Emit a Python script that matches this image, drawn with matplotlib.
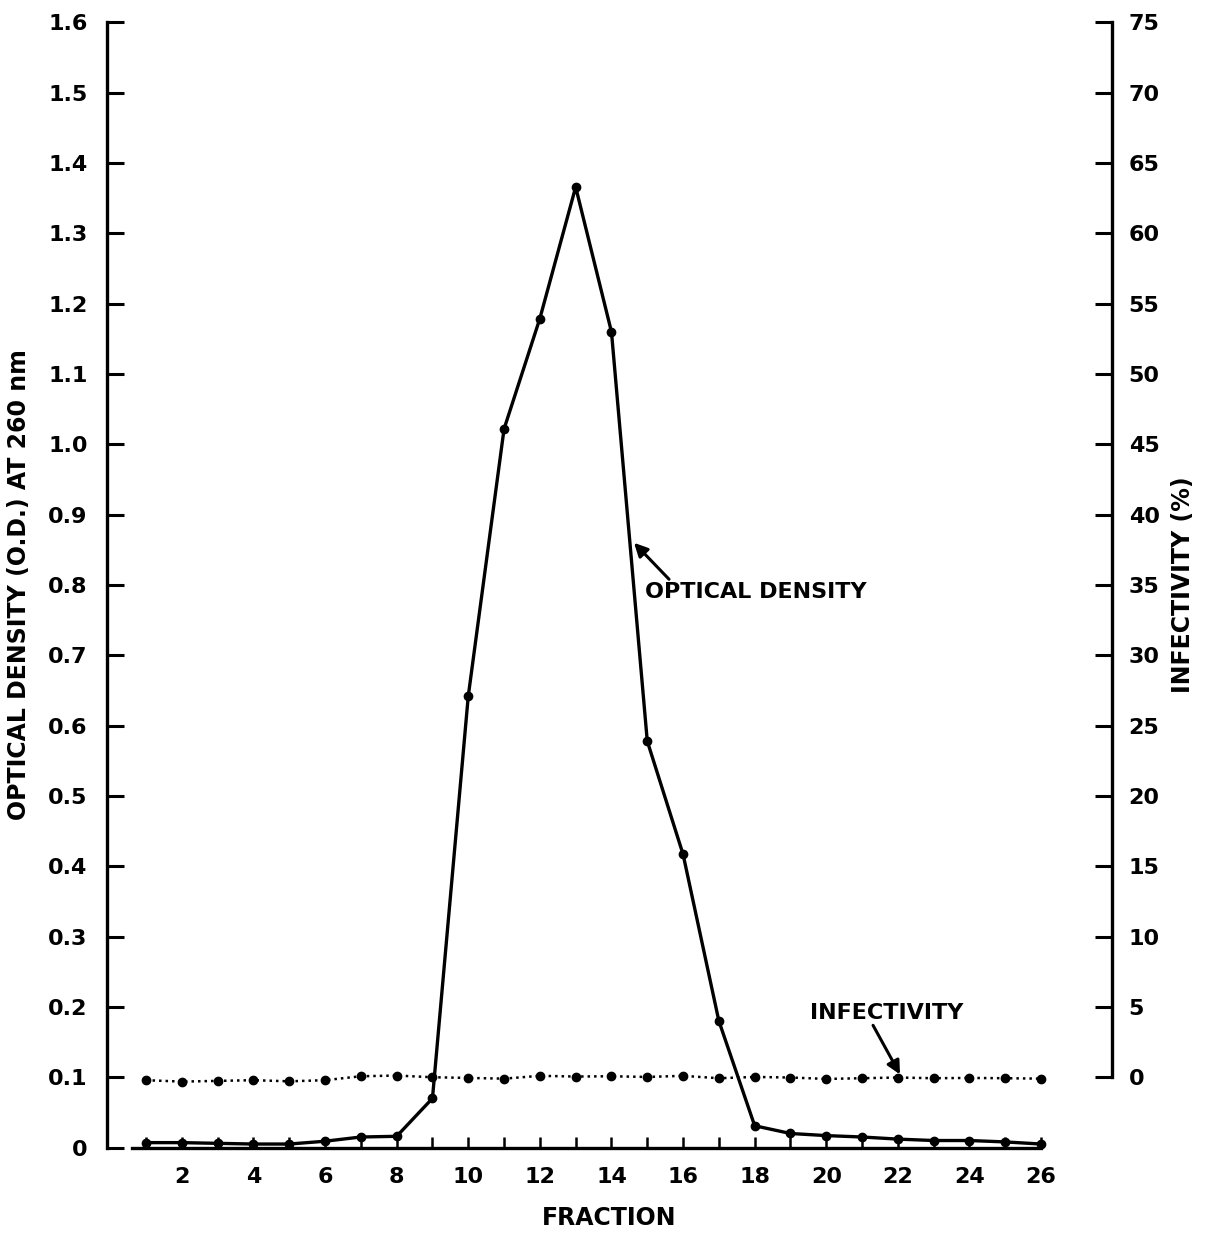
import matplotlib
matplotlib.use("Agg")
import matplotlib.pyplot as plt

fractions = list(range(1, 27))
optical_density = [0.007, 0.007, 0.006, 0.005, 0.005, 0.009, 0.015, 0.016, 0.070, 0.642,
                   1.022, 1.179, 1.366, 1.160, 0.578, 0.417, 0.180, 0.031, 0.020, 0.017,
                   0.015, 0.012, 0.010, 0.010, 0.008, 0.005]
infectivity = [-0.21, -0.31, -0.26, -0.21, -0.29, -0.21, 0.07, 0.12, 0.00, -0.05,
               -0.10, 0.10, 0.05, 0.07, 0.02, 0.10, -0.07, 0.02, -0.02, -0.12,
               -0.07, -0.02, -0.07, -0.05, -0.07, -0.10]
left_ticks = [0, 0.1, 0.2, 0.3, 0.4, 0.5, 0.6, 0.7, 0.8, 0.9, 1.0, 1.1, 1.2, 1.3, 1.4, 1.5, 1.6]
left_labels = ["0", "0.1", "0.2", "0.3", "0.4", "0.5", "0.6", "0.7", "0.8", "0.9", "1.0",
               "1.1", "1.2", "1.3", "1.4", "1.5", "1.6"]
right_ticks = [0, 5, 10, 15, 20, 25, 30, 35, 40, 45, 50, 55, 60, 65, 70, 75]
x_label_ticks = [2, 4, 6, 8, 10, 12, 14, 16, 18, 20, 22, 24, 26]

plt.rcParams['font.family'] = ['DejaVu Sans']
fs = 16
fig = plt.figure(figsize=(12.19, 12.41), dpi=100)
ax = fig.add_axes([0.0878, 0.0753, 0.9122 - 0.0878, 0.9819 - 0.0753])
ax.set_xlim(-0.09, 27.98)
ax.set_ylim(0, 1.6)

ax.plot(fractions, optical_density, color='black', lw=2.4, marker='o', ms=6,
        solid_capstyle='round', zorder=3)

ax2 = ax.twinx()
ax2.set_ylim(-5, 75)
ax2.plot(fractions, infectivity, color='black', lw=1.8, ls=(0, (1, 1.6)), marker='o', ms=6,
         zorder=3)

for a in (ax, ax2):
    a.spines['top'].set_visible(False)
ax.spines['right'].set_visible(False)
ax2.spines['left'].set_visible(False)
ax2.spines['bottom'].set_visible(False)
ax.spines['bottom'].set_bounds(0.6, 26)
ax2.spines['right'].set_bounds(0, 75)
for s in ('left', 'bottom'):
    ax.spines[s].set_linewidth(2.4)
ax2.spines['right'].set_linewidth(2.4)

ax.set_yticks(left_ticks)
ax.set_yticklabels(left_labels)
ax.tick_params(axis='y', direction='in', length=12, width=2.2, labelsize=fs, pad=14)
ax.set_xticks(fractions, minor=False)
ax.set_xticklabels([str(f) if f in x_label_ticks else "" for f in fractions])
ax.tick_params(axis='x', direction='in', length=8, width=1.8, labelsize=fs, pad=14)
ax2.set_yticks(right_ticks)
ax2.tick_params(axis='y', direction='in', length=12, width=2.2, labelsize=fs, pad=12)
for lab in ax.get_xticklabels() + ax.get_yticklabels() + ax2.get_yticklabels():
    lab.set_fontweight('bold')

ax.set_xlabel("FRACTION", fontsize=fs + 1, fontweight='bold', labelpad=14)
ax.set_ylabel("OPTICAL DENSITY (O.D.) AT 260 nm", fontsize=fs + 1, fontweight='bold', labelpad=12)
ax2.set_ylabel("INFECTIVITY (%)", fontsize=fs + 1, fontweight='bold', labelpad=8)

ax.annotate("OPTICAL DENSITY", xy=(14.63, 0.86), xytext=(14.94, 0.79),
            fontsize=fs, fontweight='bold', va='center', ha='left',
            arrowprops=dict(arrowstyle='-|>', color='black', lw=2.2,
                            mutation_scale=20, shrinkA=0, shrinkB=0,
                            relpos=(0.12, 1.0)))
ax.annotate("INFECTIVITY", xy=(22.06, 0.104), xytext=(19.55, 0.192),
            fontsize=fs, fontweight='bold', va='center', ha='left',
            arrowprops=dict(arrowstyle='-|>', color='black', lw=2.2,
                            mutation_scale=20, shrinkA=0, shrinkB=0,
                            relpos=(0.4, 0.0)))

fig.savefig("out.png", dpi=100, facecolor='white')
